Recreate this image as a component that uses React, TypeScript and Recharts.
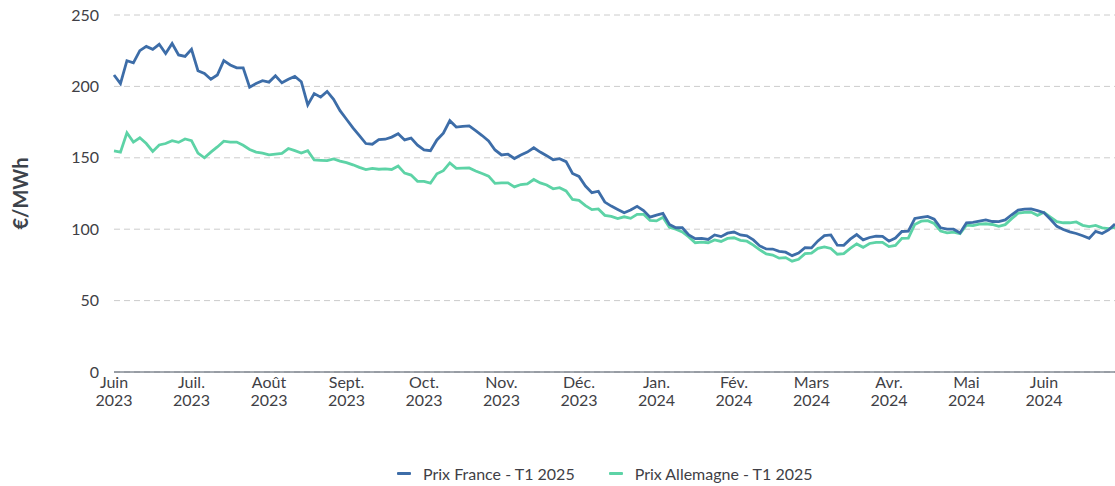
import React from 'react';
import { LineChart, Line, XAxis, YAxis, CartesianGrid, Legend } from 'recharts';

// 12 points per month, June 2023 -> end of June 2024
const STEPS_PER_MONTH = 12;

const monthLabels = [
  'Juin 2023', 'Juil. 2023', 'Août 2023', 'Sept. 2023', 'Oct. 2023', 'Nov. 2023', 'Déc. 2023',
  'Jan. 2024', 'Fév. 2024', 'Mars 2024', 'Avr. 2024', 'Mai 2024', 'Juin 2024',
];

const yTicks = [0, 50, 100, 150, 200, 250];

const prixFrance = [
  208, 202, 218, 216.5, 225, 228, 226, 229.5, 223, 230,
  222, 221, 226, 211, 209, 205, 208, 218, 215, 213,
  213, 199.5, 202, 204, 203, 207.5, 202.5, 205, 207, 203.3,
  187, 195, 192.5, 196.5, 191, 183, 177, 171, 165.5, 160,
  159.5, 162.7, 163, 164.5, 166.8, 162.5, 163.8, 158.8, 155.5, 155,
  162.5, 167.3, 176, 171.5, 172, 172.3, 169, 165.6, 161.8, 155.5,
  152, 152.5, 149.5, 152, 154, 157, 154, 151.5, 148.6, 149.4,
  147.3, 139, 137, 130.2, 125.6, 126.6, 119, 116.2, 113.8, 111.5,
  113.4, 116, 113, 108.4, 109.8, 111, 103.3, 101, 101, 96,
  93.4, 93.6, 92.8, 96, 94.8, 97.2, 98, 96, 95.4, 92.5,
  88.3, 86.2, 86.1, 84.5, 83.9, 81.5, 83.3, 87, 86.9, 91.8,
  95.5, 96, 88.8, 88.7, 93, 96.2, 92.5, 94.2, 95.2, 95,
  91.6, 93.8, 98.4, 98.7, 107.5, 108.2, 109, 107, 101, 100,
  100, 97.4, 104.5, 104.8, 105.6, 106.5, 105.4, 105.3, 106.5, 110.1,
  113.4, 114.1, 114.2, 113, 111.5, 107, 102, 99.8, 98.1, 97,
  95.4, 93.6, 98.5, 97, 99.5, 103.6,
];

const prixAllemagne = [
  154.8, 154, 167.5, 161, 164, 160, 154.5, 159, 160, 162,
  160.8, 163.2, 162, 153.3, 150, 154, 157.6, 161.6, 161, 161,
  158.8, 155.8, 154, 153.3, 152, 152.5, 153.1, 156.5, 155, 153.4,
  155, 148.5, 148.2, 148, 149.2, 147.7, 146.6, 145.1, 143.3, 141.7,
  142.6, 142, 142.3, 141.8, 144.3, 139.3, 137.9, 133.5, 133.5, 132.2,
  138.8, 141, 146.4, 142.6, 142.8, 142.9, 140.8, 139, 137.2, 132.1,
  132.4, 132.5, 129.6, 131.3, 131.7, 134.8, 132.4, 131, 128.3, 129.1,
  126.8, 120.8, 120.2, 116.5, 113.7, 114.2, 109.7, 109, 107.5, 108.7,
  107.6, 110.4, 110.4, 106.1, 105.8, 108.3, 101.4, 100, 98.1, 94.6,
  90.5, 91, 90.5, 92.5, 91.4, 93.5, 94, 92.2, 91.6, 88.9,
  85.5, 82.7, 81.9, 79.7, 80.1, 77.6, 78.9, 82.9, 83.3, 86.6,
  87.6, 86.5, 82.5, 82.9, 86.6, 89.7, 87.3, 90, 90.8, 90.8,
  87.8, 88.6, 93.6, 93.7, 103.3, 105.6, 106, 104, 98.7, 97.4,
  98, 96.9, 102.8, 102.5, 103.6, 103.8, 103.3, 102, 103.2, 107.4,
  111.2, 111.8, 112, 109.7, 111.8, 108.5, 105.3, 104.5, 104.5, 105.1,
  102.7, 101.8, 102.7, 100.9, 100.4, 101.3,
];

const FRANCE_COLOR = '#3D6DA8';
const ALLEMAGNE_COLOR = '#5DD3A6';
const TEXT_COLOR = '#3f3f46';
const FONT = 'Lato, "Open Sans", sans-serif';

const data = prixFrance.map((v, i) => ({ i, france: v, allemagne: prixAllemagne[i] }));
const xTicks = monthLabels.map((_, m) => m * STEPS_PER_MONTH);

const legendItems = [
  { name: 'Prix France - T1 2025', color: FRANCE_COLOR },
  { name: 'Prix Allemagne - T1 2025', color: ALLEMAGNE_COLOR },
];

const MonthTick = ({ x, y, payload }: any) => {
  const label = monthLabels[Math.round(payload.value / STEPS_PER_MONTH)] || '';
  const [month, year] = label.split(' ');
  return (
    <text x={x} y={y} textAnchor="middle" fill={TEXT_COLOR} fontSize={16} fontFamily={FONT}>
      <tspan x={x} dy={8}>{month}</tspan>
      <tspan x={x} dy={18}>{year}</tspan>
    </text>
  );
};

const YLabel = ({ viewBox }: any) => {
  const cy = viewBox.y + viewBox.height / 2;
  return (
    <text
      x={20}
      y={cy}
      transform={`rotate(-90 20 ${cy})`}
      textAnchor="middle"
      dominantBaseline="central"
      fill="#3d434b"
      fontSize={20}
      fontWeight={700}
      fontFamily={FONT}
    >
      €/MWh
    </text>
  );
};

const LegendContent = () => (
  <div style={{ display: 'flex', paddingLeft: 397, paddingTop: 18, fontSize: 16, color: TEXT_COLOR, fontFamily: FONT }}>
    {legendItems.map((it) => (
      <span key={it.name} style={{ display: 'inline-flex', alignItems: 'center', marginRight: 34 }}>
        <span style={{ display: 'inline-block', width: 14, height: 3, background: it.color, marginRight: 12, borderRadius: 1 }} />
        {it.name}
      </span>
    ))}
  </div>
);

export default function App() {
  return (
    <div style={{ position: 'fixed', left: 0, top: 0, background: '#fff', fontFamily: FONT }}>
      <LineChart width={1115} height={486} data={data} margin={{ top: 15, right: 0, bottom: 0, left: 0 }}>
        <CartesianGrid vertical={false} stroke="#cccccc" strokeDasharray="6 4" />
        <XAxis
          type="number"
          dataKey="i"
          domain={[0, prixFrance.length - 1]}
          ticks={xTicks}
          interval={0}
          tickLine={false}
          axisLine={{ stroke: '#4b5563' }}
          height={74}
          tick={<MonthTick />}
        />
        <YAxis
          domain={[0, 250]}
          ticks={yTicks}
          interval={0}
          axisLine={false}
          tickLine={false}
          width={114}
          tickMargin={9}
          tick={{ fill: TEXT_COLOR, fontSize: 16, fontFamily: FONT }}
          label={<YLabel />}
        />
        <Legend verticalAlign="bottom" height={40} wrapperStyle={{ left: 0, width: 1115 }} content={<LegendContent />} />
        <Line
          type="linear"
          dataKey="allemagne"
          name="Prix Allemagne - T1 2025"
          stroke={ALLEMAGNE_COLOR}
          strokeWidth={2.8}
          dot={false}
          isAnimationActive={false}
        />
        <Line
          type="linear"
          dataKey="france"
          name="Prix France - T1 2025"
          stroke={FRANCE_COLOR}
          strokeWidth={2.8}
          dot={false}
          isAnimationActive={false}
        />
      </LineChart>
    </div>
  );
}
